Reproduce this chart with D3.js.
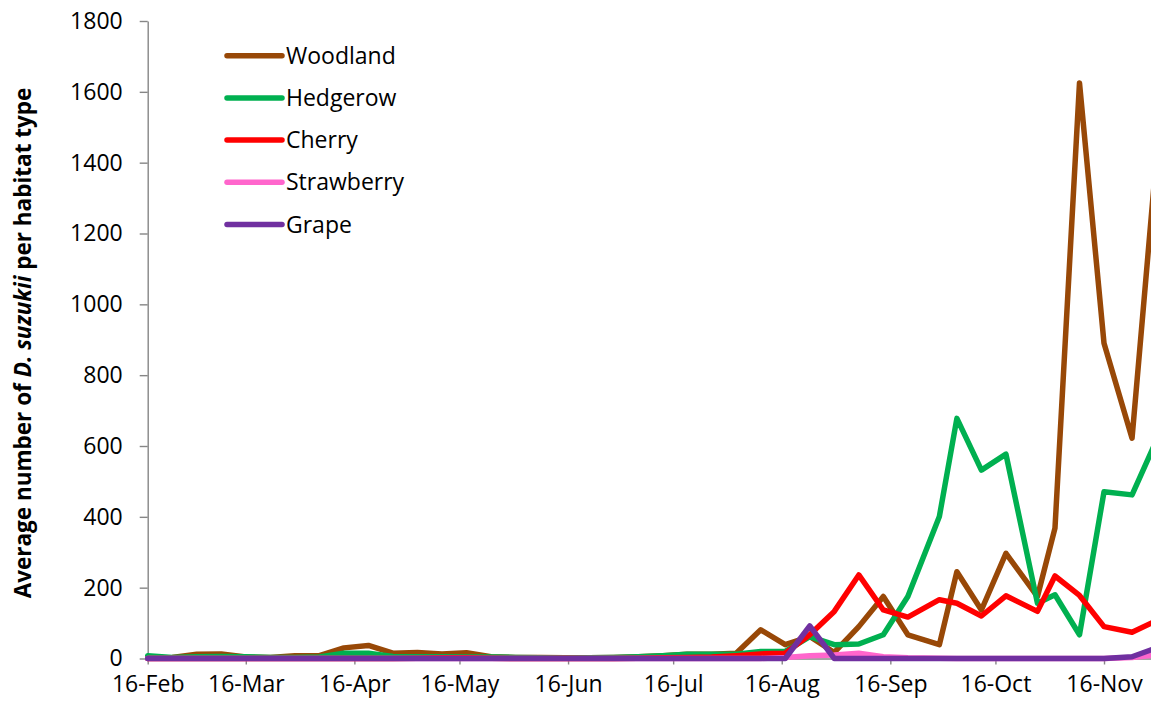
<!DOCTYPE html>
<html>
<head>
<meta charset="utf-8">
<script src="https://cdn.jsdelivr.net/npm/d3@7"></script>
<style>
  body { margin: 0; background: #fff; }
  svg { display: block; font-family: "Open Sans", sans-serif; }
</style>
</head>
<body>
<div id="chart"></div>
<script>
// sampling dates (weekly traps)
const sampleDates = [
  "2015-02-16", "2015-02-23", "2015-03-02", "2015-03-09", "2015-03-16", "2015-03-23",
  "2015-03-30", "2015-04-06", "2015-04-13", "2015-04-20", "2015-04-27", "2015-05-04",
  "2015-05-11", "2015-05-18", "2015-05-25", "2015-06-01", "2015-06-08", "2015-06-15",
  "2015-06-22", "2015-06-29", "2015-07-06", "2015-07-13", "2015-07-20", "2015-07-27",
  "2015-08-03", "2015-08-10", "2015-08-17", "2015-08-24", "2015-08-31", "2015-09-07",
  "2015-09-14", "2015-09-21", "2015-09-30", "2015-10-05", "2015-10-12", "2015-10-19",
  "2015-10-28", "2015-11-02", "2015-11-09", "2015-11-16", "2015-11-24", "2015-12-01"
];

const woodland = [2, 3, 12, 13, 4, 3, 8, 8, 30, 37, 15, 17, 13, 16, 5, 3, 3, 2, 2, 3, 5, 8, 12, 12,
  15, 81, 39, 62, 17, 90, 175, 67, 39, 245, 137, 297, 175, 368, 1625, 890, 622, 1420];
const hedgerow = [8, 3, 5, 6, 5, 3, 3, 4, 15, 15, 6, 5, 5, 4, 4, 3, 2, 1, 2, 3, 5, 8, 12, 12,
  12, 20, 20, 62, 39, 41, 67, 175, 401, 678, 532, 577, 156, 180, 67, 471, 462, 617];
const cherry = [0, 0, 0, 0, 0, 0, 0, 0, 0, 0, 0, 1, 2, 2, 1, 0, 0, 0, 0, 0, 1, 2, 3, 4,
  8, 13, 15, 67, 133, 236, 137, 117, 166, 156, 120, 177, 133, 233, 178, 90, 74, 107];
const strawberry = [0, 0, 0, 0, 0, 0, 0, 0, 0, 0, 0, 0, 0, 0, 0, 0, 0, 0, 0, 0, 0, 0, 0, 0,
  0, 0, 3, 8, 10, 15, 5, 2, 1, 0, 0, 0, 0, 0, 0, 0, 3, 10];
const grape = [0, 0, 0, 0, 0, 0, 0, 0, 0, 0, 0, 0, 0, 0, 0, 0, 0, 0, 0, 0, 0, 0, 0, 0,
  0, 0, 0, 92, 0, 0, 0, 0, 0, 0, 0, 0, 0, 0, 0, 0, 5, 30];

const seriesNames = ["Woodland", "Hedgerow", "Cherry", "Strawberry", "Grape"];
const seriesColors = ["#984807", "#00B050", "#FF0000", "#FF66CC", "#7030A0"];
const tickLabels = ["16-Feb", "16-Mar", "16-Apr", "16-May", "16-Jun", "16-Jul", "16-Aug", "16-Sep", "16-Oct", "16-Nov"];
const yTicks = [0, 200, 400, 600, 800, 1000, 1200, 1400, 1600, 1800];

const width = 1151, height = 711;
const parseDate = d3.timeParse("%Y-%m-%d");
const parseTick = d3.timeParse("%d-%b-%Y");

const svg = d3.select("#chart").append("svg")
  .attr("width", width)
  .attr("height", height);

// x axis runs Feb 16 -> Dec 16, the picture is cut off at the right edge
const x = d3.scaleTime()
  .domain([parseDate("2015-02-16"), parseDate("2015-12-16")])
  .range([147.7, 147.7 + 303 * 3.503]);

const y = d3.scaleLinear()
  .domain([0, 1800])
  .range([658.5, 21]);

const axisColor = "#868686";

// y axis
const yAxis = svg.append("g")
  .attr("transform", `translate(${x.range()[0]},0)`)
  .call(d3.axisLeft(y).tickValues(yTicks).tickFormat(d3.format("d"))
    .tickSize(8).tickSizeOuter(0).tickPadding(17));

// x axis
const xAxis = svg.append("g")
  .attr("transform", `translate(0,${y(0)})`)
  .call(d3.axisBottom(x)
    .tickValues(tickLabels.map(t => parseTick(t + "-2015")))
    .tickFormat((d, i) => tickLabels[i])
    .tickSize(6).tickSizeOuter(0).tickPadding(11));

[yAxis, xAxis].forEach(function (g) {
  g.select(".domain").attr("stroke", axisColor).attr("stroke-width", 1.4);
  g.selectAll(".tick line").attr("stroke", axisColor).attr("stroke-width", 1.4);
  g.selectAll(".tick text")
    .attr("fill", "#000")
    .style("font-size", "23px")
    .style("font-family", "'Open Sans', sans-serif");
});

// y axis title
const title = svg.append("text")
  .attr("transform", "translate(31,343) rotate(-90)")
  .attr("text-anchor", "middle")
  .style("font-size", "22.5px")
  .style("font-weight", "bold");
title.append("tspan").text("Average number of ");
title.append("tspan").style("font-style", "italic").text("D. suzukii");
title.append("tspan").text(" per habitat type");

// lines
const allSeries = [woodland, hedgerow, cherry, strawberry, grape];
const line = d3.line()
  .x((d, i) => x(parseDate(sampleDates[i])))
  .y(d => y(d));

svg.append("g")
  .selectAll("path")
  .data(allSeries)
  .join("path")
  .attr("d", line)
  .attr("fill", "none")
  .attr("stroke", (d, i) => seriesColors[i])
  .attr("stroke-width", 5.5)
  .attr("stroke-linejoin", "round")
  .attr("stroke-linecap", "round");

// legend
const legend = svg.append("g")
  .selectAll("g")
  .data(seriesNames)
  .join("g")
  .attr("transform", (d, i) => `translate(227,${55.7 + i * 42.2})`);

legend.append("line")
  .attr("x1", 0).attr("x2", 55)
  .attr("stroke", (d, i) => seriesColors[i])
  .attr("stroke-width", 5.5)
  .attr("stroke-linecap", "round");

legend.append("text")
  .attr("x", 59)
  .attr("dy", "0.35em")
  .style("font-size", "23px")
  .text(d => d);
</script>
</body>
</html>
